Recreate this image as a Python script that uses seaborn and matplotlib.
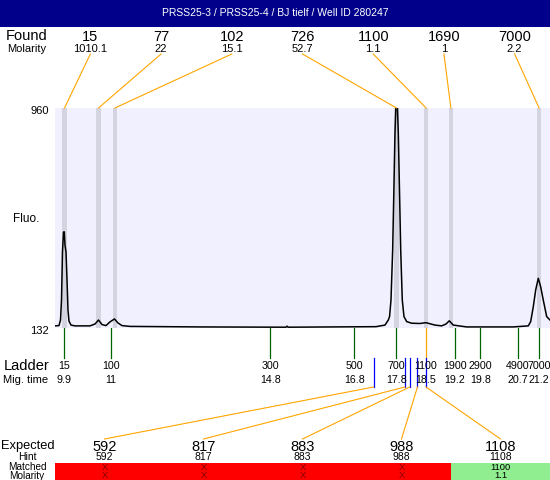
import numpy as np
import matplotlib
matplotlib.use('Agg')
import matplotlib.pyplot as plt
from matplotlib.patches import Rectangle
import matplotlib.transforms as mtrans
import seaborn as sns

title = "PRSS25-3 / PRSS25-4 / BJ tielf / Well ID 280247"

# electropherogram trace (migration time, fluorescence)
mig_time = [9.674, 9.769, 9.805, 9.829, 9.852, 9.876, 9.895, 9.912, 9.936, 9.960,
            9.983, 10.007, 10.055, 10.150, 10.507, 10.626, 10.710, 10.793, 10.888, 10.983,
            11.090, 11.174, 11.269, 11.459, 13.126, 15.174, 15.198, 15.221, 17.317, 17.531,
            17.610, 17.640, 17.674, 17.714, 17.738, 17.769, 17.793, 17.824, 17.848, 17.881,
            17.905, 17.943, 17.983, 18.048, 18.167, 18.364, 18.507, 18.721, 18.881, 18.983,
            19.062, 19.157, 19.476, 20.586, 20.943, 21.000, 21.062, 21.119, 21.181, 21.238,
            21.300, 21.381, 21.460]
fluo = [140, 141, 162, 237, 418, 493, 494, 444, 418, 313,
        200, 158, 143, 140, 140, 147, 162, 145, 141, 155,
        166, 151, 141, 138, 136, 135, 139, 135, 137, 143,
        162, 175, 237, 426, 614, 866, 975, 975, 866, 614,
        426, 237, 175, 156, 150, 149, 152, 143, 140, 147,
        159, 143, 136, 136, 140, 156, 212, 275, 319, 287,
        237, 175, 162]

found_size = ['15', '77', '102', '726', '1100', '1690', '7000']
found_molarity = ['1010.1', '22', '15.1', '52.7', '1.1', '1', '2.2']
found_time = [9.9, 10.71, 11.10, 17.805, 18.51, 19.10, 21.2]

ladder_size = [15, 100, 300, 500, 700, 1100, 1900, 2900, 4900, 7000]
ladder_time = [9.9, 11.0, 14.8, 16.8, 17.8, 18.5, 19.2, 19.8, 20.7, 21.2]
ladder_time_lbl = ['9.9', '11', '14.8', '16.8', '17.8', '18.5', '19.2', '19.8', '20.7', '21.2']

expected_size = [592, 817, 883, 988, 1108]
hint = ['592', '817', '883', '988', '1108']
matched = ['X', 'X', 'X', 'X', '1100']
matched_molarity = ['X', 'X', 'X', 'X', '1.1']
matched_ok = [False, False, False, False, True]

W, H = 550, 480
ORANGE = '#FFA500'
plt.rcParams['font.family'] = ['Liberation Sans', 'DejaVu Sans']


def fx(x):
    return x / W


def fy(y):
    return 1 - y / H


fig = plt.figure(figsize=(5.5, 4.8), dpi=100)

# title bar
ax_t = fig.add_axes([0, fy(27), 1, 27 / H])
ax_t.set_facecolor('#00008B')
ax_t.set_xticks([]); ax_t.set_yticks([])
for s in ax_t.spines.values():
    s.set_visible(False)
ax_t.text(0.5, 0.5, title, color='white', ha='center', va='center', fontsize=7.5,
          transform=ax_t.transAxes)

# main trace
ax = fig.add_axes([fx(55), fy(328), fx(495), 220 / H])
ax.set_facecolor('#F0F0FF')
for t in found_time:
    ax.axvspan(t - 0.05, t + 0.05, color='#D4D4E0', lw=0, zorder=1)
sns.lineplot(x=mig_time, y=fluo, ax=ax, color='black', lw=1.1, sort=False,
             estimator=None, zorder=3)
ax.set_xlim(9.674, 21.46)
ax.set_ylim(132, 960)
ax.set_xticks([]); ax.set_yticks([])
ax.set_xlabel(''); ax.set_ylabel('')
for s in ax.spines.values():
    s.set_visible(False)
x0, x1 = ax.get_xlim()

# top annotation strip (y in pixels)
ax_top = fig.add_axes([fx(55), fy(108), fx(495), 81 / H], sharex=ax)
ax_top.set_ylim(108, 27)
ax_top.axis('off')
n = len(found_size)
for i, (sz, mol, t) in enumerate(zip(found_size, found_molarity, found_time)):
    xs = x0 + (i + 0.5) / n * (x1 - x0)
    ax_top.text(xs, 37, sz, ha='center', va='center', fontsize=10.5)
    ax_top.text(xs, 48.5, mol, ha='center', va='center', fontsize=8)
    ax_top.plot([xs, t], [54, 108], color=ORANGE, lw=0.8, clip_on=False)

# bottom strip: ladder + expected table (y in pixels)
ax_bot = fig.add_axes([fx(55), 0, fx(495), 152 / H], sharex=ax)
ax_bot.set_ylim(480, 328)
ax_bot.axis('off')
for sz, t, lbl in zip(ladder_size, ladder_time, ladder_time_lbl):
    col = ORANGE if sz == 1100 else '#006400'
    ax_bot.plot([t, t], [328, 358], color=col, lw=0.9)
    ax_bot.text(t, 366, str(sz), ha='center', va='center', fontsize=7.7)
    ax_bot.text(t, 380, lbl, ha='center', va='center', fontsize=7.7)

exp_time = np.interp(expected_size, ladder_size, ladder_time)
m = len(expected_size)
blend = mtrans.blended_transform_factory(ax_bot.transAxes, ax_bot.transData)
for i, t in enumerate(exp_time):
    xs = x0 + (i + 0.5) / m * (x1 - x0)
    ax_bot.plot([t, t], [358, 387], color='blue', lw=0.9)
    ax_bot.plot([t, xs], [387, 439], color=ORANGE, lw=0.8)
    ax_bot.text(xs, 447, str(expected_size[i]), ha='center', va='center', fontsize=10.5)
    ax_bot.text(xs, 457.5, hint[i], ha='center', va='center', fontsize=7.5)
    ok = matched_ok[i]
    ax_bot.add_patch(Rectangle((i / m, 463), 1 / m, 17, transform=blend,
                               color='#90EE90' if ok else '#FF0000', lw=0, clip_on=False))
    tc = 'black' if ok else '#800000'
    ax_bot.text(xs, 467.5, matched[i], ha='center', va='center', fontsize=6.8, color=tc)
    ax_bot.text(xs, 476, matched_molarity[i], ha='center', va='center', fontsize=6.8, color=tc)

# row labels on the left
fig.text(fx(27), fy(36), 'Found', ha='center', va='center', fontsize=10.5)
fig.text(fx(27), fy(48.5), 'Molarity', ha='center', va='center', fontsize=8)
fig.text(fx(49), fy(111), '960', ha='right', va='center', fontsize=8)
fig.text(fx(26), fy(219), 'Fluo.', ha='center', va='center', fontsize=8.5)
fig.text(fx(49), fy(331), '132', ha='right', va='center', fontsize=8)
fig.text(fx(27), fy(366), 'Ladder', ha='center', va='center', fontsize=10.5)
fig.text(fx(26), fy(380), 'Mig. time', ha='center', va='center', fontsize=8)
fig.text(fx(27.5), fy(446), 'Expected', ha='center', va='center', fontsize=9.3)
fig.text(fx(27), fy(457.5), 'Hint', ha='center', va='center', fontsize=7.5)
fig.text(fx(27), fy(467.5), 'Matched', ha='center', va='center', fontsize=7.2)
fig.text(fx(27), fy(476), 'Molarity', ha='center', va='center', fontsize=7.2)

fig.savefig('out.png', dpi=100)
